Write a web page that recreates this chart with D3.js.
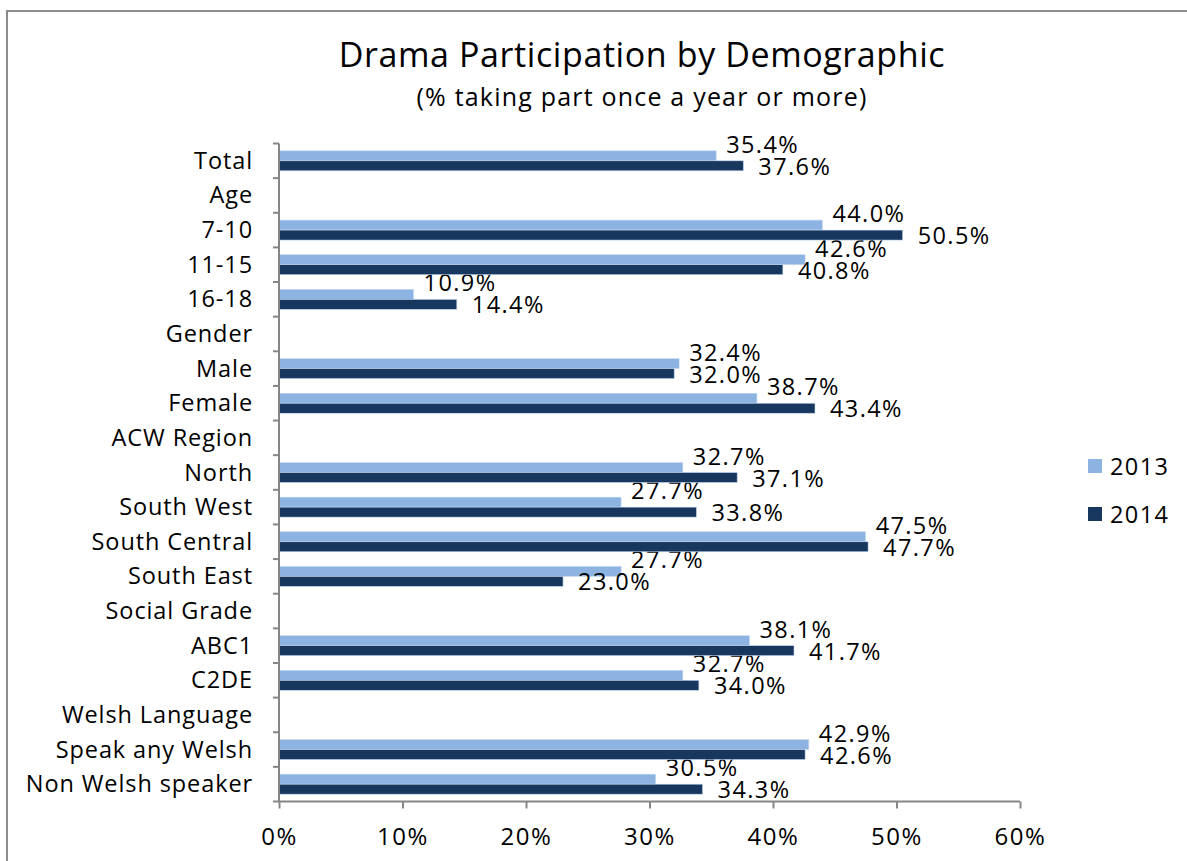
<!DOCTYPE html>
<html>
<head>
<meta charset="utf-8">
<script src="https://cdn.jsdelivr.net/npm/d3@7"></script>
<style>
  html, body { margin: 0; padding: 0; background: #fff; }
  svg { display: block; }
  text { font-family: "Open Sans", "Noto Sans", sans-serif; fill: #000; }
</style>
</head>
<body>
<svg id="chart" width="1187" height="861"></svg>
<script>
const categories = ["Total", "Age", "7-10", "11-15", "16-18", "Gender", "Male", "Female",
  "ACW Region", "North", "South West", "South Central", "South East", "Social Grade",
  "ABC1", "C2DE", "Welsh Language", "Speak any Welsh", "Non Welsh speaker"];
const values2013 = [35.4, null, 44.0, 42.6, 10.9, null, 32.4, 38.7, null, 32.7, 27.7, 47.5, 27.7, null, 38.1, 32.7, null, 42.9, 30.5];
const values2014 = [37.6, null, 50.5, 40.8, 14.4, null, 32.0, 43.4, null, 37.1, 33.8, 47.7, 23.0, null, 41.7, 34.0, null, 42.6, 34.3];
const seriesNames = ["2013", "2014"];
const seriesColors = ["#8DB3E2", "#17375E"];
const xTicks = [0, 10, 20, 30, 40, 50, 60];
const titleText = "Drama Participation by Demographic";
const subtitleText = "(% taking part once a year or more)";

const svg = d3.select("#chart");

// outer chart border (extends beyond right/bottom edges)
svg.append("rect")
  .attr("x", 7).attr("y", 11)
  .attr("width", 1200).attr("height", 900)
  .attr("fill", "none").attr("stroke", "#8c8c8c").attr("stroke-width", 2);

const x = d3.scaleLinear().domain([0, 60]).range([279, 1020]);
const y = d3.scaleBand().domain(categories).range([143.5, 801.5]).padding(0);
const barH = 10;

// title
svg.append("text").attr("x", 642).attr("y", 67)
  .attr("text-anchor", "middle").style("font-size", "34px").style("letter-spacing", "0.6px").text(titleText);
svg.append("text").attr("x", 642).attr("y", 106)
  .attr("text-anchor", "middle").style("font-size", "25px").style("letter-spacing", "1.2px").text(subtitleText);

// bars
const series = [values2013, values2014];
series.forEach((vals, si) => {
  const g = svg.append("g");
  const data = categories.map((c, i) => ({ c, v: vals[i] })).filter(d => d.v != null);
  g.selectAll("rect").data(data).enter().append("rect")
    .attr("x", x(0))
    .attr("y", d => y(d.c) + y.bandwidth() / 2 - barH + si * barH)
    .attr("width", d => x(d.v) - x(0))
    .attr("height", barH)
    .attr("fill", seriesColors[si])
    .attr("stroke", "#c6d9f1")
    .attr("stroke-width", 0.6);
  g.selectAll("text").data(data).enter().append("text")
    .attr("x", d => x(d.v) + (si === 0 ? 10 : 15))
    .attr("y", d => {
      const barCenter = y(d.c) + y.bandwidth() / 2 - barH / 2 + si * barH;
      return barCenter + (si === 0 ? -11 : 1) + 8;
    })
    .style("font-size", "23.5px")
    .style("letter-spacing", "1.4px")
    .text(d => d.v.toFixed(1) + "%");
});

// y axis
const yg = svg.append("g").attr("transform", `translate(${x(0)},0)`);
yg.append("line").attr("x1", 0).attr("x2", 0)
  .attr("y1", y.range()[0]).attr("y2", y.range()[1])
  .attr("stroke", "#868686").attr("stroke-width", 2);
const boundaries = categories.map(c => y(c)).concat([y.range()[1]]);
yg.selectAll("line.tick").data(boundaries).enter().append("line")
  .attr("class", "tick")
  .attr("x1", -6).attr("x2", 0).attr("y1", d => d).attr("y2", d => d)
  .attr("stroke", "#868686").attr("stroke-width", 2);
yg.selectAll("text.cat").data(categories).enter().append("text")
  .attr("class", "cat")
  .attr("x", 253 - x(0))
  .attr("y", d => y(d) + y.bandwidth() / 2 + 8)
  .attr("text-anchor", "end")
  .style("font-size", "23.5px")
  .style("letter-spacing", "0.9px")
  .text(d => d);

// x axis
const xAxis = d3.axisBottom(x).tickValues(xTicks).tickSize(7).tickFormat(d => d + "%");
const xg = svg.append("g").attr("transform", `translate(0,${y.range()[1]})`).call(xAxis);
xg.select(".domain").attr("stroke", "#868686").attr("stroke-width", 2)
  .attr("d", `M${x(0)},0H${x(60)}`);
xg.selectAll(".tick line").attr("stroke", "#868686").attr("stroke-width", 2);
xg.selectAll(".tick text")
  .attr("y", 43)
  .attr("dy", 0)
  .style("font-family", "'Open Sans', sans-serif")
  .style("font-size", "24px")
  .style("letter-spacing", "1.5px")
  .attr("fill", "#000");

// legend
const legend = svg.append("g");
seriesNames.forEach((name, i) => {
  const ly = 459 + i * 48;
  legend.append("rect").attr("x", 1088).attr("y", ly).attr("width", 14).attr("height", 14)
    .attr("fill", seriesColors[i]);
  legend.append("text").attr("x", 1110).attr("y", ly + 16)
    .style("font-size", "23.5px").style("letter-spacing", "1.4px").text(name);
});
</script>
</body>
</html>
